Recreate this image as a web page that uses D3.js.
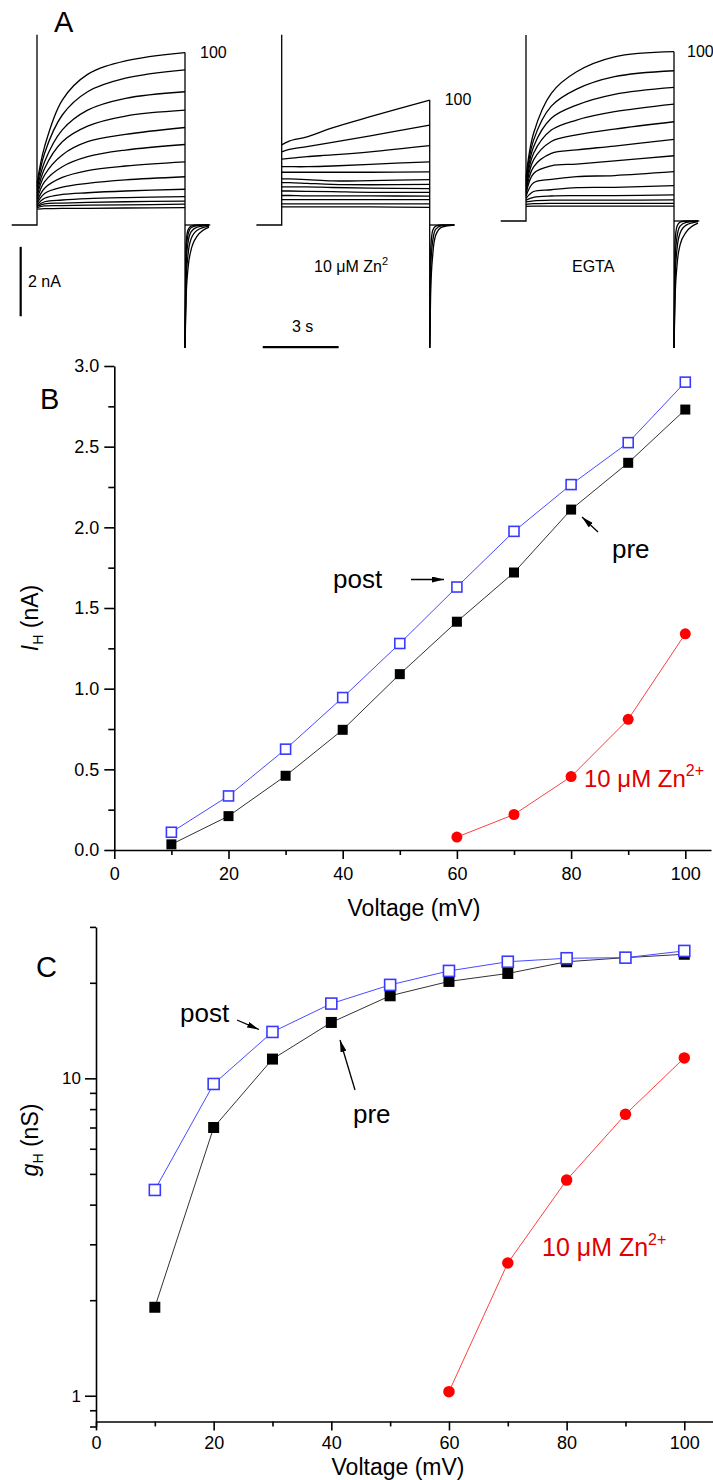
<!DOCTYPE html>
<meta charset="utf-8">
<style>
  body { margin: 0; background: #fff; }
  svg text { font-family: Arial, "Liberation Sans", sans-serif; fill: #000; }
  .axis path, .axis line { stroke: #000; stroke-width: 1.6; }
  .axis text { font-family: Arial, "Liberation Sans", sans-serif; font-size: 18px; fill: #000; }
  .trace { fill: none; stroke: #000; stroke-width: 1.3; }
</style>

<div id="fig"></div>

<script src="https://cdn.jsdelivr.net/npm/d3@7/dist/d3.min.js"></script>
<script>

// ---------------- data ----------------

// B, C : voltage steps (mV)
var voltages   = [10, 20, 30, 40, 50, 60, 70, 80, 90, 100];
var znVoltages = [60, 70, 80, 90, 100];

// B : I_H (nA)
var ihPre  = [0.035, 0.21, 0.46, 0.745, 1.09, 1.415, 1.72, 2.11, 2.40, 2.73];
var ihPost = [0.11, 0.335, 0.625, 0.945, 1.28, 1.63, 1.975, 2.265, 2.525, 2.90];
var ihZn   = [0.08, 0.22, 0.455, 0.81, 1.34];

// C : g_H (nS)
var ghPre  = [1.90, 7.0, 11.5, 15.0, 18.2, 20.2, 21.4, 23.3, 24.0, 24.6];
var ghPost = [4.45, 9.6, 14.0, 17.2, 19.7, 21.8, 23.3, 23.9, 24.0, 25.2];
var ghZn   = [1.03, 2.62, 4.78, 7.7, 11.6];

// tick values
var bTicksX = [0, 20, 40, 60, 80, 100];
var bMinorX = [10, 30, 50, 70, 90];
var bTicksY = [0, 0.5, 1.0, 1.5, 2.0, 2.5, 3.0];
var bMinorY = [0.25, 0.75, 1.25, 1.75, 2.25, 2.75];
var cTicksY = [1, 10];
var cMinorY = [0.8, 0.9, 2, 3, 4, 5, 6, 7, 8, 9, 20, 30];

// A : current traces (nA, relative to holding) sampled at these times (s) of the step
var stepLength = 5.85;
var traceTimes = [0, 0.3, 1, 2, 3.5, 5.85];
var ctrlTraces = [
  [1.20, 2.26, 3.60, 4.34, 4.73, 4.97],
  [1.10, 2.07, 3.17, 3.84, 4.23, 4.47],
  [1.01, 1.82, 2.74, 3.31, 3.65, 3.84],
  [0.91, 1.63, 2.40, 2.85, 3.14, 3.31],
  [0.82, 1.44, 2.02, 2.40, 2.61, 2.81],
  [0.74, 1.25, 1.68, 1.97, 2.16, 2.32],
  [0.67, 1.06, 1.37, 1.57, 1.70, 1.82],
  [0.62, 0.91, 1.09, 1.20, 1.30, 1.39],
  [0.58, 0.77, 0.88, 0.93, 0.98, 1.03],
  [0.55, 0.67, 0.72, 0.76, 0.79, 0.82],
  [0.53, 0.61, 0.63, 0.65, 0.67, 0.69],
  [0.50, 0.55, 0.56, 0.57, 0.58, 0.60],
  [0.46, 0.47, 0.48, 0.48, 0.49, 0.50]
];
var znTraces = [
  [2.31, 2.42, 2.54, 2.80, 3.12, 3.60],
  [2.11, 2.18, 2.26, 2.38, 2.57, 2.88],
  [1.90, 1.92, 1.97, 2.02, 2.11, 2.29],
  [1.68, 1.68, 1.68, 1.70, 1.75, 1.82],
  [1.52, 1.52, 1.52, 1.52, 1.52, 1.53],
  [1.33, 1.33, 1.31, 1.27, 1.28, 1.31],
  [1.22, 1.22, 1.20, 1.17, 1.16, 1.17],
  [1.10, 1.10, 1.10, 1.08, 1.06, 1.05],
  [0.98, 0.98, 0.97, 0.96, 0.94, 0.94],
  [0.85, 0.85, 0.84, 0.84, 0.84, 0.83],
  [0.73, 0.73, 0.73, 0.73, 0.73, 0.73],
  [0.61, 0.61, 0.61, 0.61, 0.61, 0.61],
  [0.52, 0.52, 0.52, 0.52, 0.52, 0.51]
];
var egtaTraces = [
  [1.25, 2.53, 3.68, 4.30, 4.73, 4.88],
  [1.15, 2.33, 3.31, 3.80, 4.16, 4.33],
  [1.05, 2.14, 2.96, 3.34, 3.65, 3.85],
  [0.98, 1.95, 2.62, 2.91, 3.15, 3.37],
  [0.90, 1.76, 2.29, 2.48, 2.65, 2.86],
  [0.83, 1.56, 1.95, 2.05, 2.16, 2.35],
  [0.77, 1.37, 1.59, 1.64, 1.73, 1.88],
  [0.71, 1.10, 1.20, 1.28, 1.31, 1.42],
  [0.65, 0.85, 0.90, 0.96, 0.97, 1.02],
  [0.60, 0.68, 0.72, 0.73, 0.73, 0.75],
  [0.55, 0.58, 0.60, 0.60, 0.60, 0.61],
  [0.48, 0.50, 0.51, 0.51, 0.51, 0.51],
  [0.42, 0.43, 0.43, 0.43, 0.43, 0.43]
];

// tail currents after the step (s after step end, nA)
var tailTimes = [0, 0.04, 0.12, 0.24, 0.48, 0.95];
var ctrlTails = [
  [-3.54, -2.16, -1.24, -0.72, -0.32, -0.06],
  [-3.54, -1.70, -0.85, -0.40, -0.15, -0.03],
  [-3.54, -1.20, -0.50, -0.20, -0.06, -0.01],
  [-3.54, -0.80, -0.28, -0.08, -0.02, 0],
  [-3.54, -0.55, -0.14, -0.03, 0, 0]
];
var znTails = [
  [-3.54, -1.87, -0.86, -0.29, -0.06, 0],
  [-3.54, -1.20, -0.45, -0.12, -0.02, 0],
  [-3.54, -0.70, -0.15, -0.03, 0, 0]
];
var egtaTails = [
  [-3.66, -2.28, -1.27, -0.69, -0.32, -0.06],
  [-3.66, -1.70, -0.80, -0.35, -0.12, -0.02],
  [-3.66, -1.15, -0.45, -0.15, -0.04, 0],
  [-3.66, -0.60, -0.15, -0.03, 0, 0]
];

// capacitive transient peak at step onset (nA)
var spikePeaks = [5.48, 5.48, 5.36];

// scale bars
var barNA = 2;   // nA
var barS  = 3;   // s


// ---------------- figure ----------------

var W = 713, H = 1480;

var svg = d3.select("#fig").append("svg")
    .attr("width", W)
    .attr("height", H);

var defs = svg.append("defs");
defs.append("marker")
    .attr("id", "arrow")
    .attr("viewBox", "0 0 12 6")
    .attr("refX", 12).attr("refY", 3)
    .attr("markerWidth", 12).attr("markerHeight", 6)
    .attr("markerUnits", "userSpaceOnUse")
    .attr("orient", "auto")
  .append("path")
    .attr("d", "M0,0 L12,3 L0,6 z")
    .attr("fill", "#000");

function label(x, y, txt, size, opts) {
  opts = opts || {};
  return svg.append("text")
      .attr("x", x).attr("y", y)
      .attr("font-size", size)
      .attr("text-anchor", opts.anchor || "start")
      .style("fill", opts.color || "#000")
      .text(txt);
}


//**************************** A : traces ****************************

var pxPerS = 25.3, pxPerNA = 34.7;

function tracePanel(x0, base, traces, tails, spike) {
  var x = d3.scaleLinear().domain([0, 1]).range([x0, x0 + pxPerS]);
  var y = d3.scaleLinear().domain([0, 1]).range([base, base - pxPerNA]);
  var g = svg.append("g").attr("class", "tracepanel");

  var straight = d3.line().x(function(d) { return x(d[0]); }).y(function(d) { return y(d[1]); });
  var smooth = d3.line().x(function(d) { return x(d[0]); }).y(function(d) { return y(d[1]); })
      .curve(d3.curveCatmullRom.alpha(0.5));
  var tailLine = d3.line().x(function(d) { return x(d[0]); }).y(function(d) { return y(d[1]); })
      .curve(d3.curveMonotoneX);

  // holding + onset transient
  g.append("path").attr("class", "trace").attr("stroke-width", 1.8)
      .attr("d", straight([[-1, 0], [0, 0], [0, spike]]));

  // step currents
  traces.forEach(function(tr) {
    g.append("path").attr("class", "trace")
        .attr("d", smooth(traceTimes.map(function(t, i) { return [t, tr[i]]; })));
  });

  // step end drop
  var top = d3.max(traces, function(tr) { return tr[tr.length - 1]; });
  var low = d3.min(tails, function(tl) { return tl[0]; });
  g.append("path").attr("class", "trace").attr("stroke-width", 1.2)
      .attr("d", straight([[stepLength, top], [stepLength, low]]));

  // tails
  tails.forEach(function(tl) {
    g.append("path").attr("class", "trace").attr("stroke-width", 1.1)
        .attr("d", tailLine(tailTimes.map(function(t, i) { return [stepLength + t, tl[i]]; })));
  });

  // back to holding
  g.append("path").attr("class", "trace").attr("stroke-width", 1.6)
      .attr("d", straight([[stepLength, 0], [stepLength + 1, 0]]));

  return { x: x, y: y, top: top };
}

var pA1 = tracePanel(37, 225, ctrlTraces, ctrlTails, spikePeaks[0]);
var pA2 = tracePanel(281.7, 225, znTraces, znTails, spikePeaks[1]);
var pA3 = tracePanel(526, 221, egtaTraces, egtaTails, spikePeaks[2]);

label(54, 32, "A", 29);

// "100" labels at the largest trace
label(pA1.x(stepLength) + 15, pA1.y(pA1.top) + 5, "100", 16);
label(pA2.x(stepLength) + 15, pA2.y(pA2.top) + 5, "100", 16);
label(pA3.x(stepLength) + 13, pA3.y(pA3.top) + 5, "100", 16);

// scale bars
svg.append("line")
    .attr("x1", pA1.x(-0.645)).attr("x2", pA1.x(-0.645))
    .attr("y1", pA1.y(-0.63)).attr("y2", pA1.y(-0.63 - barNA))
    .attr("stroke", "#000").attr("stroke-width", 2.2);
label(28, 287, barNA + " nA", 16);

svg.append("line")
    .attr("x1", pA2.x(-0.75)).attr("x2", pA2.x(-0.75 + barS))
    .attr("y1", pA2.y(-3.52)).attr("y2", pA2.y(-3.52))
    .attr("stroke", "#000").attr("stroke-width", 2.2);
label(292, 332, barS + " s", 16);

var zA = label(314, 272, "10 \u03bcM Zn", 16);
zA.append("tspan").attr("dy", -7).attr("font-size", 11).text("2");

label(572, 272, "EGTA", 16);


//**************************** B : I_H ****************************

var xB = d3.scaleLinear().domain([0, 104.5]).range([114.3, 711]);
var yB = d3.scaleLinear().domain([0, 3]).range([850, 366]);

svg.append("g").attr("class", "axis")
    .attr("transform", "translate(0," + yB(0) + ")")
    .call(d3.axisBottom(xB).tickValues(bTicksX).tickSize(9).tickSizeOuter(0).tickPadding(8)
      .tickFormat(d3.format("d")));
svg.append("g").attr("class", "axis")
    .attr("transform", "translate(0," + yB(0) + ")")
    .call(d3.axisBottom(xB).tickValues(bMinorX).tickSize(5).tickFormat(""))
    .select(".domain").remove();

svg.append("g").attr("class", "axis")
    .attr("transform", "translate(" + xB(0) + ",0)")
    .call(d3.axisLeft(yB).tickValues(bTicksY).tickSize(10).tickSizeOuter(0).tickPadding(5)
      .tickFormat(d3.format(".1f")));
svg.append("g").attr("class", "axis")
    .attr("transform", "translate(" + xB(0) + ",0)")
    .call(d3.axisLeft(yB).tickValues(bMinorY).tickSize(6).tickFormat(""))
    .select(".domain").remove();

label(40, 409, "B", 29);
label(414, 916, "Voltage (mV)", 23, { anchor: "middle" });

var yLabB = svg.append("text")
    .attr("transform", "translate(38,618) rotate(-90)")
    .attr("text-anchor", "middle")
    .attr("font-size", 23);
yLabB.append("tspan").style("font-style", "italic").text("I");
yLabB.append("tspan").attr("dy", 5).attr("font-size", 14).text("H");
yLabB.append("tspan").attr("dy", -5).text(" (nA)");


//**************************** C : g_H ****************************

var xC = d3.scaleLinear().domain([0, 105]).range([96, 713.7]);
var yC = d3.scaleLog().domain([0.8, 30]).range([1426.5, 926.9]);
var xAxisC = yC(0.83);

svg.append("g").attr("class", "axis")
    .attr("transform", "translate(0," + xAxisC + ")")
    .call(d3.axisBottom(xC).tickValues(bTicksX).tickSize(9).tickSizeOuter(0).tickPadding(6)
      .tickFormat(d3.format("d")));
svg.append("g").attr("class", "axis")
    .attr("transform", "translate(0," + xAxisC + ")")
    .call(d3.axisBottom(xC).tickValues(bMinorX).tickSize(5).tickFormat(""))
    .select(".domain").remove();

var yAxC = svg.append("g").attr("class", "axis")
    .attr("transform", "translate(" + xC(0) + ",0)")
    .call(d3.axisLeft(yC).tickValues(cTicksY).tickSize(11).tickSizeOuter(0).tickPadding(4)
      .tickFormat(d3.format("d")));
yAxC.selectAll("text").style("font-size", "17px");
svg.append("g").attr("class", "axis")
    .attr("transform", "translate(" + xC(0) + ",0)")
    .call(d3.axisLeft(yC).tickValues(cMinorY).tickSize(6).tickFormat(""))
    .select(".domain").remove();

label(36, 977, "C", 29);
label(398, 1475, "Voltage (mV)", 23, { anchor: "middle" });

var yLabC = svg.append("text")
    .attr("transform", "translate(38,1140) rotate(-90)")
    .attr("text-anchor", "middle")
    .attr("font-size", 23);
yLabC.append("tspan").style("font-style", "italic").text("g");
yLabC.append("tspan").attr("dy", 5).attr("font-size", 14).text("H");
yLabC.append("tspan").attr("dy", -5).text(" (nS)");


//**************************** series ****************************

function series(x, y, xs, ys, kind, lineColor, size) {
  var pts = xs.map(function(v, i) { return [v, ys[i]]; });
  var g = svg.append("g");
  g.append("path")
      .attr("d", d3.line().x(function(d) { return x(d[0]); }).y(function(d) { return y(d[1]); })(pts))
      .attr("fill", "none")
      .attr("stroke", lineColor)
      .attr("stroke-width", 1);

  if (kind === "circle") {
    g.selectAll("circle").data(pts).enter().append("circle")
        .attr("cx", function(d) { return x(d[0]); })
        .attr("cy", function(d) { return y(d[1]); })
        .attr("r", size / 2)
        .attr("fill", "#ff0000");
  } else {
    g.selectAll("rect").data(pts).enter().append("rect")
        .attr("x", function(d) { return x(d[0]) - size / 2; })
        .attr("y", function(d) { return y(d[1]) - size / 2; })
        .attr("width", size).attr("height", size)
        .attr("fill", kind === "filled" ? "#000" : "#fff")
        .attr("stroke", kind === "filled" ? "none" : "#3a3aff")
        .attr("stroke-width", 1.6);
  }
}

series(xB, yB, voltages, ihPre, "filled", "#333", 10);
series(xB, yB, voltages, ihPost, "open", "#4a4aff", 10);
series(xB, yB, znVoltages, ihZn, "circle", "#ff4040", 11);

series(xC, yC, voltages, ghPre, "filled", "#333", 11);
series(xC, yC, voltages, ghPost, "open", "#4a4aff", 11);
series(xC, yC, znVoltages, ghZn, "circle", "#ff4040", 11.5);


//**************************** annotations ****************************

function arrow(x1, y1, x2, y2) {
  svg.append("line")
      .attr("x1", x1).attr("y1", y1).attr("x2", x2).attr("y2", y2)
      .attr("stroke", "#000").attr("stroke-width", 1.3)
      .attr("marker-end", "url(#arrow)");
}

function znLabel(x, y, size) {
  var t = label(x, y, "10 \u03bcM Zn", size, { color: "#e00000" });
  t.append("tspan").attr("dy", -11).attr("font-size", 16).text("2+");
}

// B
label(333, 588, "post", 26);
arrow(411, 579.5, 444, 579.5);
label(612, 558, "pre", 26);
arrow(598, 532, 582, 517);
znLabel(584, 787, 24);

// C
label(180, 1022, "post", 26);
arrow(237, 1020, 259, 1029.5);
label(353, 1123, "pre", 26);
arrow(355, 1090, 340, 1040);
znLabel(542, 1256, 25);

</script>
